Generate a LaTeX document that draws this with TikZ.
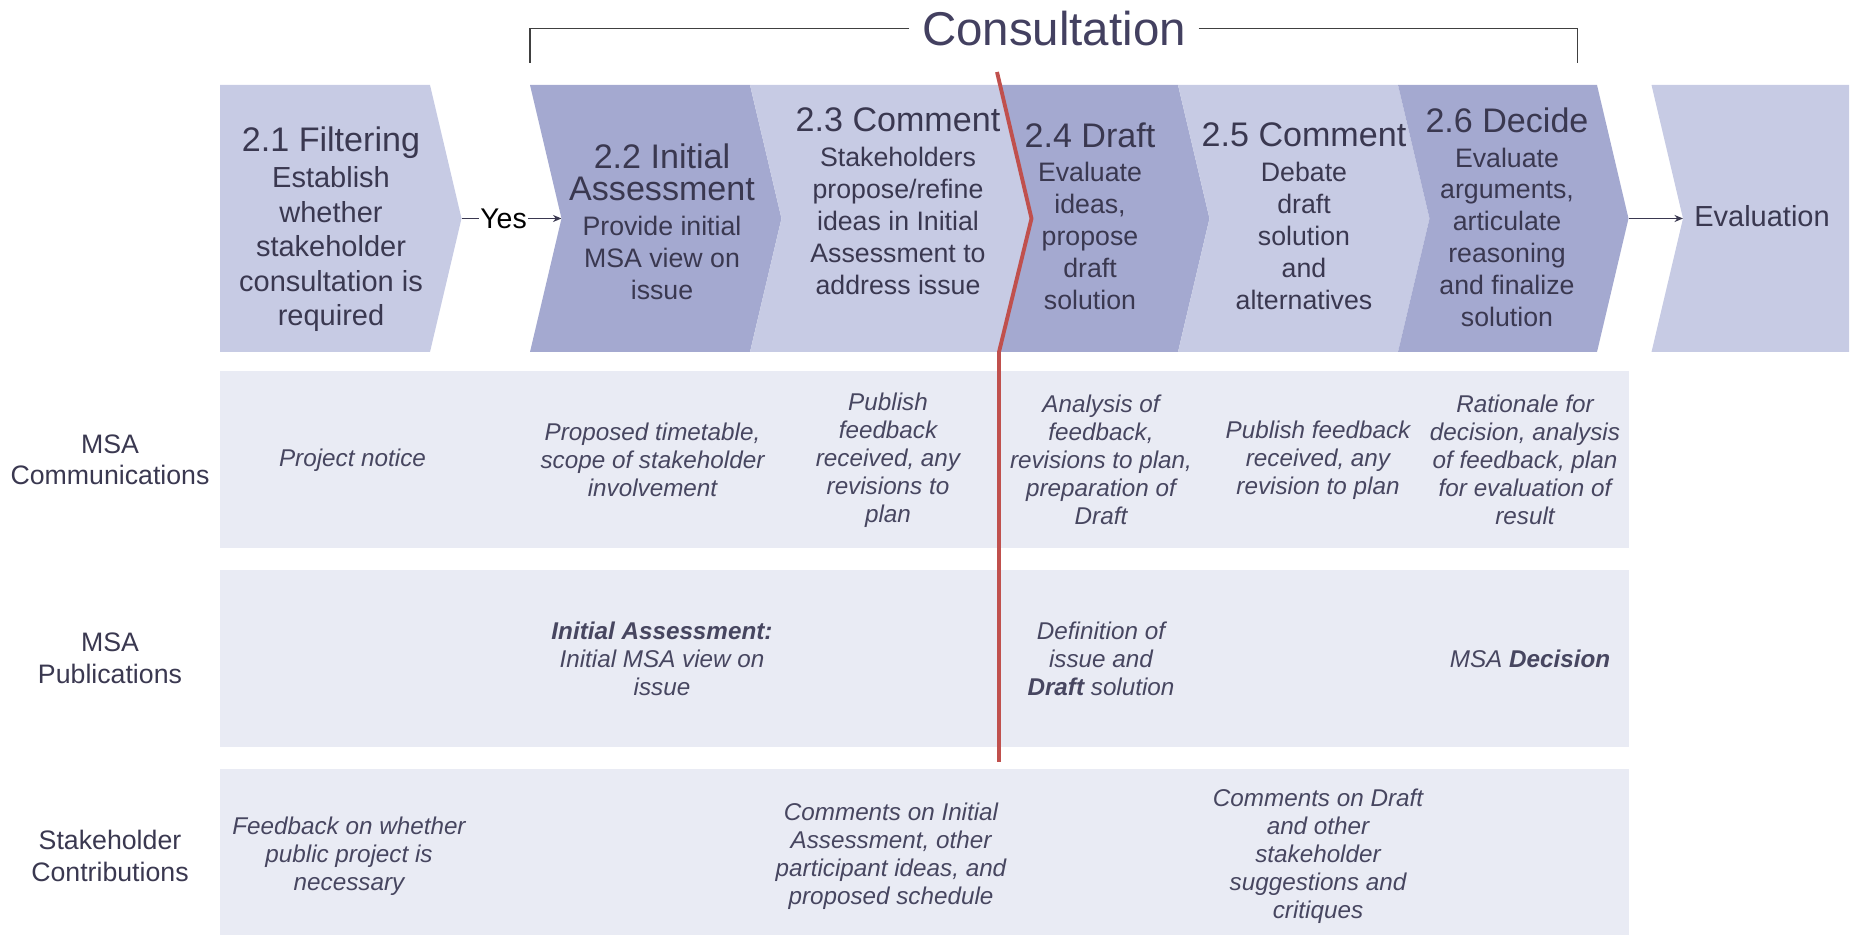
\documentclass[tikz,border=0pt]{standalone}
\usepackage{fontspec}
\setmainfont{Liberation Sans}
\usepackage{xcolor}
\usepackage{tikz}
\usetikzlibrary{
arrows.meta
}
\definecolor{msalight}{HTML}{C7CBE4}
\definecolor{msadark}{HTML}{A4A9D0}
\definecolor{msarow}{HTML}{E9EBF4}
\definecolor{msatext}{HTML}{3A3850}
\definecolor{msanote}{HTML}{474660}
\definecolor{msatitle}{HTML}{434060}
\definecolor{msared}{HTML}{C0504D}
\newcommand{\stagehead}{\fontsize{19.4}{18.2}\selectfont}

\begin{document}
\begin{tikzpicture}[
  >={Stealth[length=0.17cm, width=0.14cm]},
  flow/.style={->, draw=msatext, line width=0.75pt},
  stagetext/.style={align=center, anchor=north, inner sep=0pt, text=msatext,
                    font=\fontsize{15.2}{18.2}\selectfont},
  rowlabel/.style={align=center, inner sep=0pt, text=msatext,
                   font=\fontsize{15.2}{18}\selectfont},
  cell/.style={align=center, inner sep=0pt, text=msanote,
               font=\fontsize{13.8}{15.9}\selectfont\itshape}
]
\useasboundingbox (0,0) rectangle (37.08,18.74);

%% ── TITLE + BRACKET ─────────────────────────────────────────────
\node[font=\fontsize{27}{30}\selectfont, text=msatitle,
      inner xsep=0.25cm, inner ysep=0pt] (title) at (21.08,18.17)
  {Consultation};
\coordinate (brleft) at (10.60,17.47);
\coordinate (brright) at (31.55,17.47);
\draw[line width=0.8pt, black!75] (title.west) -| (brleft);
\draw[line width=0.8pt, black!75] (title.east) -| (brright);

%% ── STAGES (chevrons) ───────────────────────────────────────────
\fill[msalight] (4.40,17.04) -- (8.60,17.04) -- (9.23,14.37) coordinate (p21)
  -- (8.60,11.70) -- (4.40,11.70) -- cycle;
\fill[msadark] (10.60,17.04) -- (15.00,17.04) -- (15.63,14.37)
  -- (15.00,11.70) -- (10.60,11.70) -- (11.23,14.37) coordinate (n22) -- cycle;
\fill[msalight] (15.00,17.04) -- (20.00,17.04) -- (20.63,14.37)
  -- (20.00,11.70) -- (15.00,11.70) -- (15.63,14.37) -- cycle;
\fill[msadark] (20.00,17.04) -- (23.56,17.04) -- (24.19,14.37)
  -- (23.56,11.70) -- (20.00,11.70) -- (20.63,14.37) -- cycle;
\fill[msalight] (23.56,17.04) -- (27.96,17.04) -- (28.59,14.37)
  -- (27.96,11.70) -- (23.56,11.70) -- (24.19,14.37) -- cycle;
\fill[msadark] (27.96,17.04) -- (31.94,17.04) -- (32.57,14.37) coordinate (p26)
  -- (31.94,11.70) -- (27.96,11.70) -- (28.59,14.37) -- cycle;
\fill[msalight] (33.03,17.04) -- (36.98,17.04) -- (36.98,11.70)
  -- (33.03,11.70) -- (33.66,14.37) coordinate (neval) -- cycle;

%% stage texts
\node[stagetext, font=\fontsize{16.5}{19.6}\selectfont] (t21) at (6.62,16.21)
  {\stagehead 2.1 Filtering\\[1.1pt] Establish\\ whether\\ stakeholder\\
   consultation is\\ required};
\node[stagetext] (t22) at (13.24,15.87)
  {\stagehead 2.2 Initial\\ \stagehead Assessment\\[1.7pt] Provide initial\\
   MSA view on\\ issue};
\node[stagetext] (t23) at (17.96,16.60)
  {\stagehead 2.3 Comment\\[1.7pt] Stakeholders\\ propose/refine\\
   ideas in Initial\\ Assessment to\\ address issue};
\node[stagetext] (t24) at (21.80,16.30)
  {\stagehead 2.4 Draft\\[1.7pt] Evaluate\\ ideas,\\ propose\\ draft\\ solution};
\node[stagetext] (t25) at (26.08,16.30)
  {\stagehead 2.5 Comment\\[1.7pt] Debate\\ draft\\ solution\\ and\\
   alternatives};
\node[stagetext] (t26) at (30.14,16.60)
  {\stagehead 2.6 Decide\\[1.7pt] Evaluate\\ arguments,\\ articulate\\
   reasoning\\ and finalize\\ solution};
\node[text=msatext, font=\fontsize{16.5}{19}\selectfont, anchor=base]
  (evaltext) at (35.24,14.21) {Evaluation};

%% arrows between stages
\draw[flow] (p21) -- node[pos=0.42, fill=white, inner xsep=0.5pt,
  inner ysep=1pt, text=black, font=\fontsize{16.2}{19}\selectfont] (yes) {Yes} (n22);
\draw[flow] (p26) -- (neval);

%% ── ROW BANDS ───────────────────────────────────────────────────
\fill[msarow] (4.40,11.31) rectangle (32.57,7.77);
\fill[msarow] (4.40,7.34) rectangle (32.57,3.79);
\fill[msarow] (4.40,3.36) rectangle (32.57,0.03);

\node[rowlabel] (lcomm) at (2.20,9.54) {MSA\\ Communications};
\node[rowlabel] (lpub) at (2.20,5.57) {MSA\\ Publications};
\node[rowlabel] (lcontrib) at (2.20,1.62) {Stakeholder\\ Contributions};

%% MSA Communications
\node[cell] (comm1) at (7.05,9.54) {Project notice};
\node[cell] (comm2) at (13.05,9.54)
  {Proposed timetable,\\ scope of stakeholder\\ involvement};
\node[cell] (comm3) at (17.76,9.54)
  {Publish\\ feedback\\ received, any\\ revisions to\\ plan};
\node[cell] (comm4) at (22.02,9.54)
  {Analysis of\\ feedback,\\ revisions to plan,\\ preparation of\\ Draft};
\node[cell] (comm5) at (26.36,9.54)
  {Publish feedback\\ received, any\\ revision to plan};
\node[cell] (comm6) at (30.50,9.54)
  {Rationale for\\ decision, analysis\\ of feedback, plan\\
   for evaluation of\\ result};

%% MSA Publications
\node[cell] (pub1) at (13.24,5.57)
  {\textbf{Initial Assessment:}\\ Initial MSA view on\\ issue};
\node[cell] (pub2) at (22.02,5.57)
  {Definition of\\ issue and\\ \textbf{Draft} solution};
\node[cell] (pub3) at (30.60,5.57) {MSA \textbf{Decision}};

%% Stakeholder Contributions
\node[cell] (sc1) at (6.98,1.62)
  {Feedback on whether\\ public project is\\ necessary};
\node[cell] (sc2) at (17.82,1.62)
  {Comments on Initial\\ Assessment, other\\ participant ideas, and\\
   proposed schedule};
\node[cell] (sc3) at (26.36,1.62)
  {Comments on Draft\\ and other\\ stakeholder\\ suggestions and\\ critiques};

%% ── CUT-OFF LINE ────────────────────────────────────────────────
\draw[msared, line width=2.2pt] (19.94,17.30) -- (20.63,14.37)
  -- (19.98,11.70) -- (19.98,3.50);

\end{tikzpicture}
\end{document}
